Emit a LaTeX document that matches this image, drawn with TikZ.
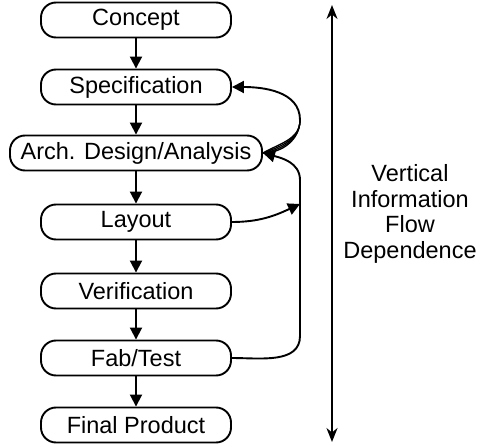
\documentclass[tikz,border=0pt]{standalone}
\usepackage{fontspec}
\setmainfont{Liberation Sans}
\usetikzlibrary{arrows.meta}
\tikzset{
  stage/.style={draw, line width=1.9pt, rounded corners=15pt,
    minimum width=190pt, minimum height=35pt, inner sep=0pt,
    font=\fontsize{23.5}{26}\selectfont},
  flow/.style={line width=1.9pt, -{Triangle[length=12pt,width=12pt]}},
  strand/.style={line width=1.3pt},
}
\begin{document}
\begin{tikzpicture}[x=1pt,y=-1pt]
      \useasboundingbox (0,0) rectangle (480,447);
      \draw
        (136,20) node[stage] (concept){Concept}
        (136,87) node[stage] (spec){Specification}
        (136,153) node[stage,minimum width=252pt] (arch){Arch. Design/Analysis}
        (136,222) node[stage] (layout){Layout}
        (136,291) node[stage] (verif){Verification}
        (136,358) node[stage] (fab){Fab/Test}
        (136,425) node[stage] (final){Final Product};
      \coordinate (loopTop) at (300,120);
      \coordinate (joinL) at (300,204);
      \coordinate (loopUp) at (300,180);
      \coordinate (loopBot) at (300,336);
      \coordinate (depTop) at (332,5);
      \coordinate (depBot) at (332,442);
      \begin{scope}[flow]
        \draw (concept) to (spec);
        \draw (spec) to (arch);
        \draw (arch) to (layout);
        \draw (layout) to (verif);
        \draw (verif) to (fab);
        \draw (fab) to (final);
      \end{scope}
      % iterations between spec and architecture
      \foreach \a in {0,10,20,30}
        \draw[strand] (arch.east) to[out=\a,in=-90] (loopTop);
      \draw[flow] (loopTop) to[out=90,in=0] (spec.east);
      % back annotation from layout and fab
      \draw[flow] (layout.east) to[out=0,in=205] (joinL);
      \draw[flow] (fab.east) to[out=0,in=-90] (loopBot) -- (loopUp)
        to[out=90,in=-15] (arch.east);
      \draw[line width=1.9pt, {Stealth[length=14pt,width=11pt]}-{Stealth[length=14pt,width=11pt]}]
        (depTop) -- (depBot);
      \node[align=center, font=\fontsize{23.5}{25.5}\selectfont] (vflow) at (410,214)
        {Vertical\\Information\\Flow\\Dependence};
    \end{tikzpicture}
\end{document}
